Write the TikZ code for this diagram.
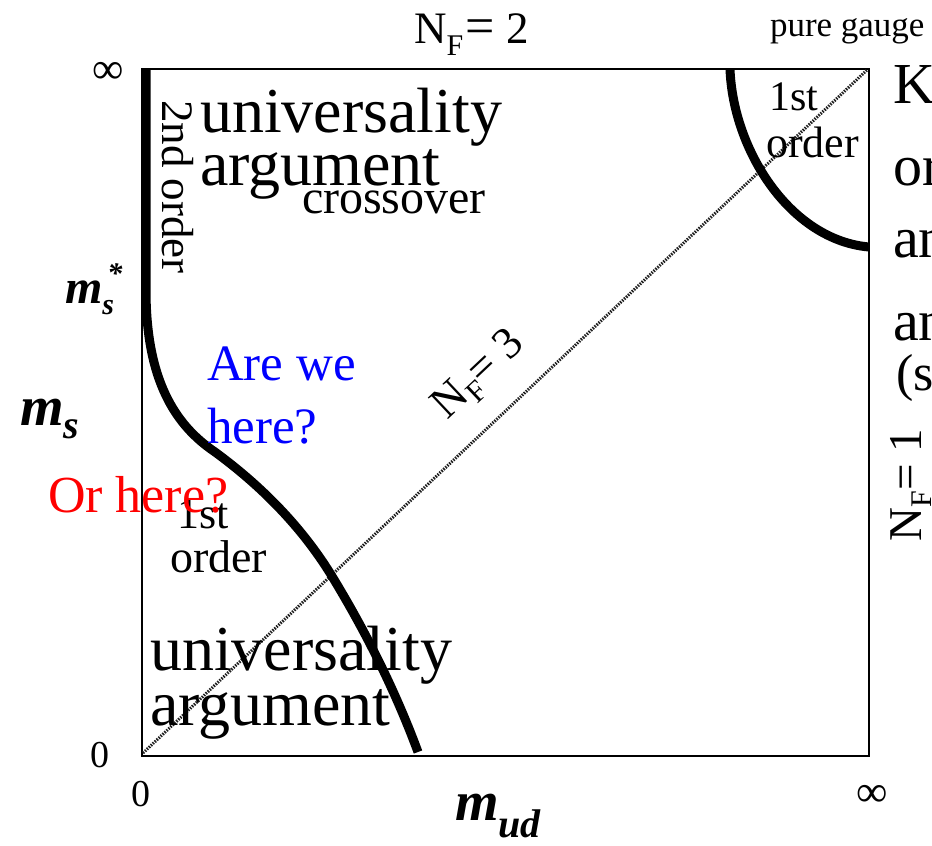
\documentclass[tikz,border=0pt]{standalone}
\usepackage{fontspec}
\setmainfont{Liberation Serif}
\newcommand\fsz[1]{\fontsize{#1}{#1}\selectfont}
\begin{document}
\begin{tikzpicture}[x=1pt,y=-1pt,
  lbl/.style={inner sep=0pt,outer sep=0pt,anchor=base west},
  frame/.style={line width=2.2pt,black},
  thickline/.style={line width=9pt,black,line cap=butt},
  nfthree/.style={line width=3pt,gray!25!black,dash pattern=on 1.5pt off 1.2pt}]
\useasboundingbox[fill=white] (0,0) rectangle (932,846);
% frame
\coordinate (bl) at (142,756);
\coordinate (br) at (869,756);
\coordinate (tr) at (869,69);
\coordinate (tl) at (142,69);
\draw[frame] (tl) -- (tr) -- (br) -- (bl) -- cycle;
% N_F = 3 diagonal
\coordinate (o) at (143,753);
\coordinate (pg) at (867,70);
\draw[nfthree] (o) -- (pg);
% 2nd order and 1st order line (left)
\coordinate (top2) at (146,69);
\coordinate (msstar) at (146,290);
\coordinate (c1) at (215,452);
\coordinate (c2) at (330,573);
\coordinate (c3) at (418,752);
\draw[thickline] (top2) -- (msstar) .. controls (146,380) and (175,425) .. (c1)
   .. controls (260,485) and (300,525) .. (c2) .. controls (365,630) and (395,690) .. (c3);
% upper right 1st order curve
\coordinate (ur1) at (730,69);
\coordinate (ur2) at (869,247);
\draw[thickline] (ur1) .. controls (733,150) and (790,240) .. (ur2);
% axis labels
\node[lbl] (inftyl) at (92,83) {\fsz{44}∞};
\node[lbl] (zerol) at (90,767) {\fsz{38}0};
\node[lbl] (zerob) at (131,806) {\fsz{38}0};
\node[lbl] (inftyb) at (856,806) {\fsz{44}∞};
\node[lbl] (mss) at (65,303) {\fsz{48}\bfseries\itshape m\rlap{\raisebox{-11pt}{\fsz{30}s}}\raisebox{20pt}{\fsz{30}\,*}};
\node[lbl] (ms) at (20,425) {\fsz{56}\bfseries\itshape m\raisebox{-13pt}{\fsz{40}s}};
\node[lbl] (mud) at (455,820) {\fsz{56}\bfseries\itshape m\raisebox{-17pt}{\fsz{40}ud}};
% N_F labels
\node[lbl] (nf2) at (414,43) {\fsz{45}N\raisebox{-12pt}{\fsz{30}F}\kern2pt{\fsz{52}=}\kern12pt2};
\node[lbl] (pure) at (770,36) {\fsz{35}pure gauge};
\node[lbl,rotate=90] (nf1) at (921,541) {\fsz{47}N\raisebox{-10pt}{\fsz{30}F}= 1};
\node[lbl,rotate=43.3] (nf3) at (447,420) {\fsz{45}N\raisebox{-10pt}{\fsz{30}F}= 3};
% region labels
\node[lbl,rotate=-90] (second) at (162,100) {\fsz{45}2nd order};
\node[lbl] (cross) at (302,213) {\fsz{48}crossover};
\node[lbl] (first1) at (177,528) {\fsz{44}1st};
\node[lbl] (first2) at (170,572) {\fsz{46}order};
\node[lbl] (first3) at (769,110) {\fsz{42}1st};
\node[lbl] (first4) at (766,157) {\fsz{44}order};
% overlay texts
\node[lbl] (ua1) at (200,132) {\fsz{64}universality};
\node[lbl] (ua2) at (200,185) {\fsz{64}argument};
\node[lbl] (ub1) at (150,670) {\fsz{64}universality};
\node[lbl] (ub2) at (150,725) {\fsz{64}argument};
\node[lbl,text=blue] (aw1) at (207,380) {\fsz{51}Are we};
\node[lbl,text=blue] (aw2) at (207,443) {\fsz{51}here?};
\node[lbl,text=red] (oh) at (48,512) {\fsz{52}Or here?};
% clipped text on the right edge
\node[lbl] (k1) at (893,103) {\fsz{58}K};
\node[lbl] (k2) at (893,185) {\fsz{58}or};
\node[lbl] (k3) at (893,257) {\fsz{58}an};
\node[lbl] (k4) at (893,340) {\fsz{58}an};
\node[lbl] (k5) at (896,390) {\fsz{52}(s};
\end{tikzpicture}
\end{document}
